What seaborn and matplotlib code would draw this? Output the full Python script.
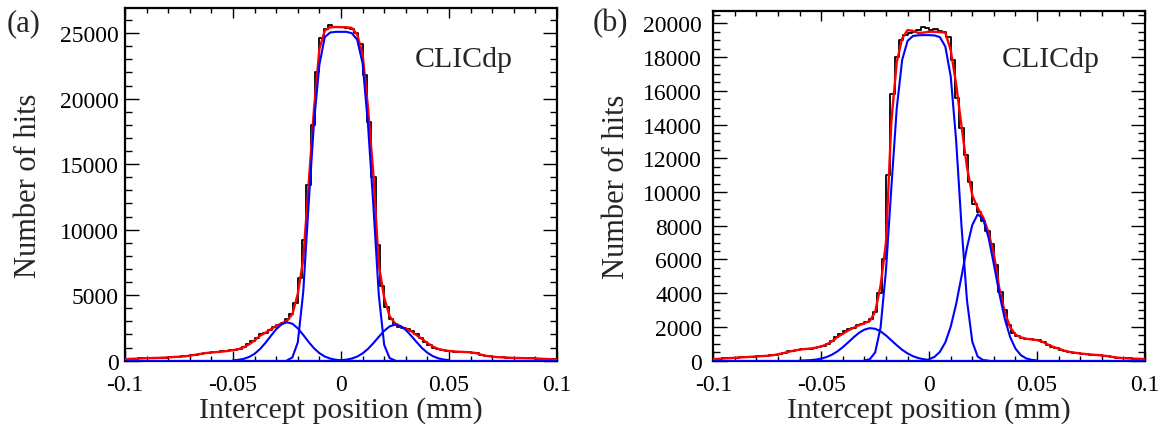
import numpy as np
import pandas as pd
import matplotlib
matplotlib.use("Agg")
import matplotlib.pyplot as plt
import seaborn as sns
from matplotlib.ticker import MultipleLocator, FuncFormatter

# ---------------- data ----------------
# histogram contents, 100 equal bins over [-0.1, 0.1] mm
HIST_A = [120, 150, 150, 170, 180, 200, 200, 220, 220, 240,
          260, 280, 300, 320, 360, 400, 470, 520, 580, 620,
          650, 660, 700, 720, 780, 840, 900, 1040, 1250, 1500,
          1750, 2000, 2150, 2350, 2600, 2750, 2900, 3150, 3600, 4400,
          6300, 9200, 13400, 18000, 22000, 24600, 25300, 25600, 25500, 25450,
          25500, 25400, 25300, 25000, 24200, 21800, 18200, 14000, 8800, 5700,
          4100, 3200, 2800, 2600, 2500, 2400, 2300, 2000, 1700, 1450,
          1200, 1000, 880, 800, 740, 700, 690, 680, 660, 650,
          620, 560, 440, 370, 320, 290, 260, 250, 230, 220,
          210, 200, 190, 180, 180, 160, 150, 130, 110, 90]
HIST_B = [100, 120, 130, 150, 160, 180, 200, 210, 220, 240,
          260, 270, 290, 310, 350, 420, 470, 560, 590, 640,
          680, 690, 720, 760, 800, 880, 980, 1150, 1400, 1600,
          1750, 1850, 1950, 2100, 2200, 2300, 2450, 2900, 4000, 6000,
          11000, 15800, 18000, 19000, 19300, 19450, 19500, 19600, 19800, 19700,
          19600, 19650, 19550, 19500, 19200, 17800, 15600, 13800, 12200, 10600,
          9300, 8800, 8300, 7700, 6900, 5700, 4100, 3000, 2100, 1650,
          1450, 1350, 1300, 1270, 1240, 1200, 1100, 950, 830, 730,
          650, 570, 520, 480, 430, 400, 380, 360, 340, 330,
          290, 250, 210, 180, 160, 140, 130, 120, 110, 100]

# total fit (red), sampled every 0.0025 mm from -0.1 to 0.1
FIT_X = [round(-0.1 + 0.0025 * i, 4) for i in range(81)]
RED_A = [100, 140, 150, 170, 190, 200, 210, 230, 250, 280,
         300, 330, 380, 450, 520, 580, 630, 660, 690, 740,
         800, 880, 1020, 1250, 1550, 1900, 2130, 2400, 2650, 2850,
         3050, 3550, 5100, 7700, 13400, 19200, 23800, 25200, 25450, 25470,
         25460,
         25450, 25400, 24900, 23400, 19300, 14200, 7300, 4800, 3400, 2850,
         2600, 2450, 2250, 1950, 1650, 1350, 1080, 900, 800, 740,
         700, 680, 660, 640, 580, 450, 360, 310, 270, 250,
         230, 210, 200, 190, 180, 170, 150, 130, 110, 80]
RED_B = [90, 110, 130, 150, 170, 190, 210, 230, 250, 270,
         290, 320, 380, 450, 530, 600, 650, 690, 720, 770,
         850, 960, 1150, 1400, 1600, 1790, 1950, 2100, 2220, 2350,
         2900, 4450, 7000, 14200, 17700, 19100, 19600, 19550, 19430, 19450,
         19500,
         19500, 19480, 19450, 18400, 16400, 13900, 11500, 9800, 9050, 8500,
         7600, 6300, 4300, 2900, 1980, 1550, 1380, 1300, 1260, 1220,
         1120, 960, 820, 710, 600, 520, 470, 430, 390, 360,
         340, 310, 270, 220, 180, 150, 130, 120, 110, 100]

# fit components (blue), each on its own support, step 0.0025 mm
A_CENTER_X = [round(-0.025 + 0.0025 * i, 4) for i in range(21)]
A_CENTER = [20, 250, 1400, 5200, 11900, 18200, 22600, 24700, 25050, 25100,
            25100, 25100, 25000, 24500, 22700, 18000, 11800, 5000, 1200, 200, 15]
A_LEFT_X = [round(-0.05 + 0.0025 * i, 4) for i in range(21)]
A_LEFT = [26, 64, 142, 285, 525, 885, 1355, 1885, 2400, 2775, 2930,
          2820, 2470, 1970, 1430, 950, 575, 315, 160, 72, 30]
A_RIGHT_X = [round(0.0 + 0.0025 * i, 4) for i in range(21)]
A_RIGHT = [34, 78, 162, 314, 555, 900, 1340, 1820, 2280, 2615, 2750,
           2650, 2345, 1900, 1420, 960, 605, 344, 182, 88, 39]

B_CENTER_X = [round(-0.03 + 0.0025 * i, 4) for i in range(24)]
B_CENTER = [10, 85, 494, 1970, 5360, 10270, 14980, 17830, 18960, 19250, 19290, 19300,
            19300, 19280, 19180, 18620, 16850, 13070, 7970, 3610, 1120, 241, 34, 3]
B_LEFT_X = [round(-0.06 + 0.0025 * i, 4) for i in range(25)]
B_LEFT = [7, 15, 33, 65, 123, 216, 356, 552, 800, 1087, 1384, 1650, 1841,
          1928, 1892, 1737, 1495, 1206, 913, 645, 430, 266, 155, 85, 43]
B_RIGHT_X = [round(0.0 + 0.0025 * i, 4) for i in range(21)]
B_RIGHT = [89, 228, 529, 1085, 2020, 3350, 5000, 6700, 8050, 8680, 8400,
           7310, 5700, 3990, 2495, 1410, 713, 324, 132, 49, 16]

X_TICKS = [-0.1, -0.05, 0, 0.05, 0.1]

# ---------------- styling ----------------
sns.set_style("ticks")
plt.rcParams["font.family"] = ["Liberation Serif", "DejaVu Serif"]
plt.rcParams["axes.unicode_minus"] = False

fig = plt.figure(figsize=(11.68, 4.27), dpi=100)
ax_a = fig.add_axes([0.1070, 0.1530, 0.3699, 0.8253])
ax_b = fig.add_axes([0.6107, 0.1530, 0.3696, 0.8197])


def panel(ax, hist, red, comps, ymax, ymaj, ymin, ylab_x, ypad):
    n = len(hist)
    edges = np.linspace(-0.1, 0.1, n + 1)
    centers = 0.5 * (edges[:-1] + edges[1:])
    hdf = pd.DataFrame({"pos": centers, "hits": hist})
    sns.histplot(data=hdf, x="pos", weights="hits", bins=n,
                 binrange=(-0.1, 0.1), element="step",
                 fill=False, color="black", linewidth=1.3, ax=ax, zorder=2)
    sns.lineplot(x=FIT_X, y=red, color="#ff0000", linewidth=1.7, ax=ax,
                 zorder=3)
    for cx, cy in comps:
        sns.lineplot(x=cx, y=cy, color="#0000ff", linewidth=1.5, ax=ax,
                     zorder=4)
    ax.axhline(0, color="#0000ff", linewidth=2.2, zorder=4)

    ax.set_xlim(-0.1, 0.1)
    ax.set_ylim(0, ymax)
    ax.set_xticks(X_TICKS)
    ax.xaxis.set_minor_locator(MultipleLocator(0.01))
    ax.yaxis.set_major_locator(MultipleLocator(ymaj))
    ax.yaxis.set_minor_locator(MultipleLocator(ymin))
    ax.xaxis.set_major_formatter(FuncFormatter(lambda v, p: "%g" % round(v, 3)))
    ax.yaxis.set_major_formatter(FuncFormatter(lambda v, p: "%d" % round(v)))

    ax.tick_params(which="both", direction="in", top=True, right=True,
                   width=1.0, colors="black")
    ax.tick_params(axis="y", which="major", length=10, pad=ypad, labelsize=17)
    ax.tick_params(axis="y", which="minor", length=5)
    ax.tick_params(axis="x", which="major", length=7, pad=9.5, labelsize=17)
    ax.tick_params(axis="x", which="minor", length=3.5)
    for s in ax.spines.values():
        s.set_linewidth(1.6)
        s.set_color("black")
        s.set_visible(True)

    ax.set_xlabel("Intercept position (mm)", fontsize=21.5)
    ax.set_ylabel("Number of hits", fontsize=22)
    ax.xaxis.set_label_coords(0.5, -0.10)
    ax.yaxis.set_label_coords(ylab_x, 0.5)


panel(ax_a, HIST_A, RED_A,
      [(A_LEFT_X, A_LEFT), (A_CENTER_X, A_CENTER), (A_RIGHT_X, A_RIGHT)],
      26900, 5000, 1000, -0.19, 4.5)
panel(ax_b, HIST_B, RED_B,
      [(B_LEFT_X, B_LEFT), (B_CENTER_X, B_CENTER), (B_RIGHT_X, B_RIGHT)],
      20750, 2000, 500, -0.19, 8)

ax_a.text(0.671, 0.837, "CLICdp", transform=ax_a.transAxes, fontsize=21.5,
          ha="left", va="baseline")
ax_b.text(0.668, 0.843, "CLICdp", transform=ax_b.transAxes, fontsize=21.5,
          ha="left", va="baseline")

fig.text(0.006, 0.979, "(a)", fontsize=22, ha="left", va="top")
fig.text(0.507, 0.979, "(b)", fontsize=22, ha="left", va="top")

fig.savefig("out.png", dpi=100)
